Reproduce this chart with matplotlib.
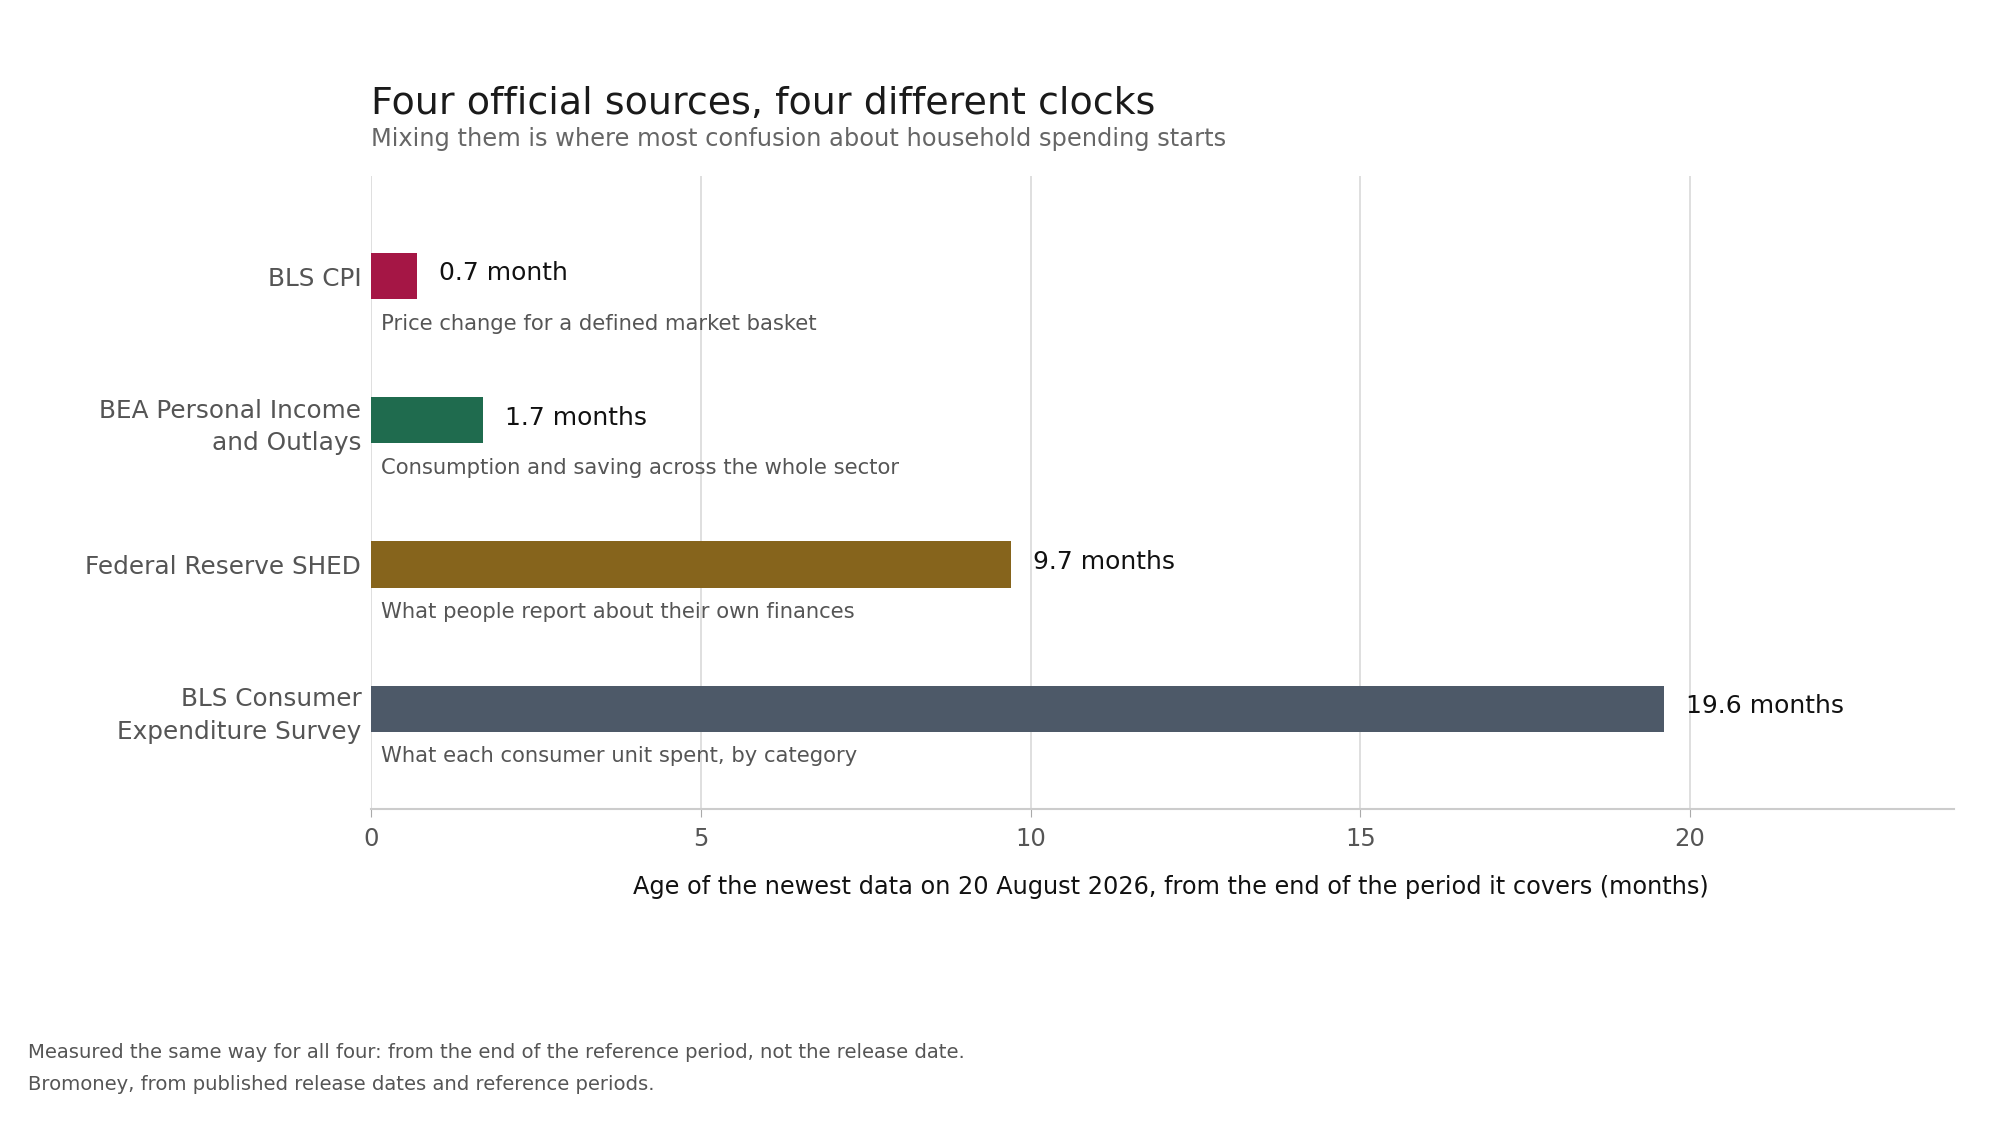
import matplotlib
matplotlib.use("Agg")
import matplotlib.pyplot as plt

# data
sources = ["BLS CPI", "BEA Personal Income\nand Outlays", "Federal Reserve SHED",
           "BLS Consumer\nExpenditure Survey"]
age_months = [0.7, 1.7, 9.7, 19.6]
value_labels = ["0.7 month", "1.7 months", "9.7 months", "19.6 months"]
descriptions = ["Price change for a defined market basket",
                "Consumption and saving across the whole sector",
                "What people report about their own finances",
                "What each consumer unit spent, by category"]
colors = ["#A51645", "#1F6B4E", "#86641C", "#4D5968"]
x_ticks = [0, 5, 10, 15, 20]

plt.rcParams['font.family'] = ['DejaVu Sans']

fig = plt.figure(figsize=(20, 11.25), dpi=100)
ax = fig.add_axes([0.1855, 0.2805, 0.7915, 0.5635])

ypos = list(range(len(sources)))
ax.barh(ypos, age_months, height=0.32, color=colors, zorder=3)

for y, v, lab, desc in zip(ypos, age_months, value_labels, descriptions):
    # value label to the right of the bar, short note underneath
    ax.annotate(lab, (v, y - 0.02), xytext=(16, 0), textcoords='offset points',
                va='center', ha='left', fontsize=18, color='#111111')
    ax.annotate(desc, (0, y + 0.33), xytext=(7, 0), textcoords='offset points',
                va='center', ha='left', fontsize=15.2, color='#555555')

ax.set_xlim(0, 24)
ax.set_ylim(3.7, -0.7)
ax.set_yticks(ypos)
ax.set_yticklabels(sources, fontsize=17.8, color='#555555', linespacing=1.45)
ax.set_xticks(x_ticks)
ax.set_xticklabels([str(t) for t in x_ticks], fontsize=17.5, color='#555555')
ax.tick_params(axis='y', length=0, pad=7)
ax.tick_params(axis='x', length=6, color='#aaaaaa', pad=7)

ax.grid(axis='x', color='#d9d9d9', linewidth=1.2, zorder=0)
for side in ['top', 'right', 'left']:
    ax.spines[side].set_visible(False)
ax.spines['bottom'].set_color('#cccccc')
ax.spines['bottom'].set_linewidth(1.5)

fig.text(0.5855, 0.2115, "Age of the newest data on 20 August 2026, from the end of the period it covers (months)",
         ha='center', va='center', fontsize=17.3, color='#111111')

fig.text(0.1855, 0.899, "Four official sources, four different clocks",
         ha='left', va='baseline', fontsize=27.4, color='#1a1a1a')
fig.text(0.1855, 0.870, "Mixing them is where most confusion about household spending starts",
         ha='left', va='baseline', fontsize=17.4, color='#666666')

fig.text(0.0141, 0.0645, "Measured the same way for all four: from the end of the reference period, not the release date.",
         ha='left', va='center', fontsize=14.1, color='#555555')
fig.text(0.0141, 0.036, "Bromoney, from published release dates and reference periods.",
         ha='left', va='center', fontsize=14.1, color='#555555')

fig.savefig("out.png", dpi=100, facecolor='white')
